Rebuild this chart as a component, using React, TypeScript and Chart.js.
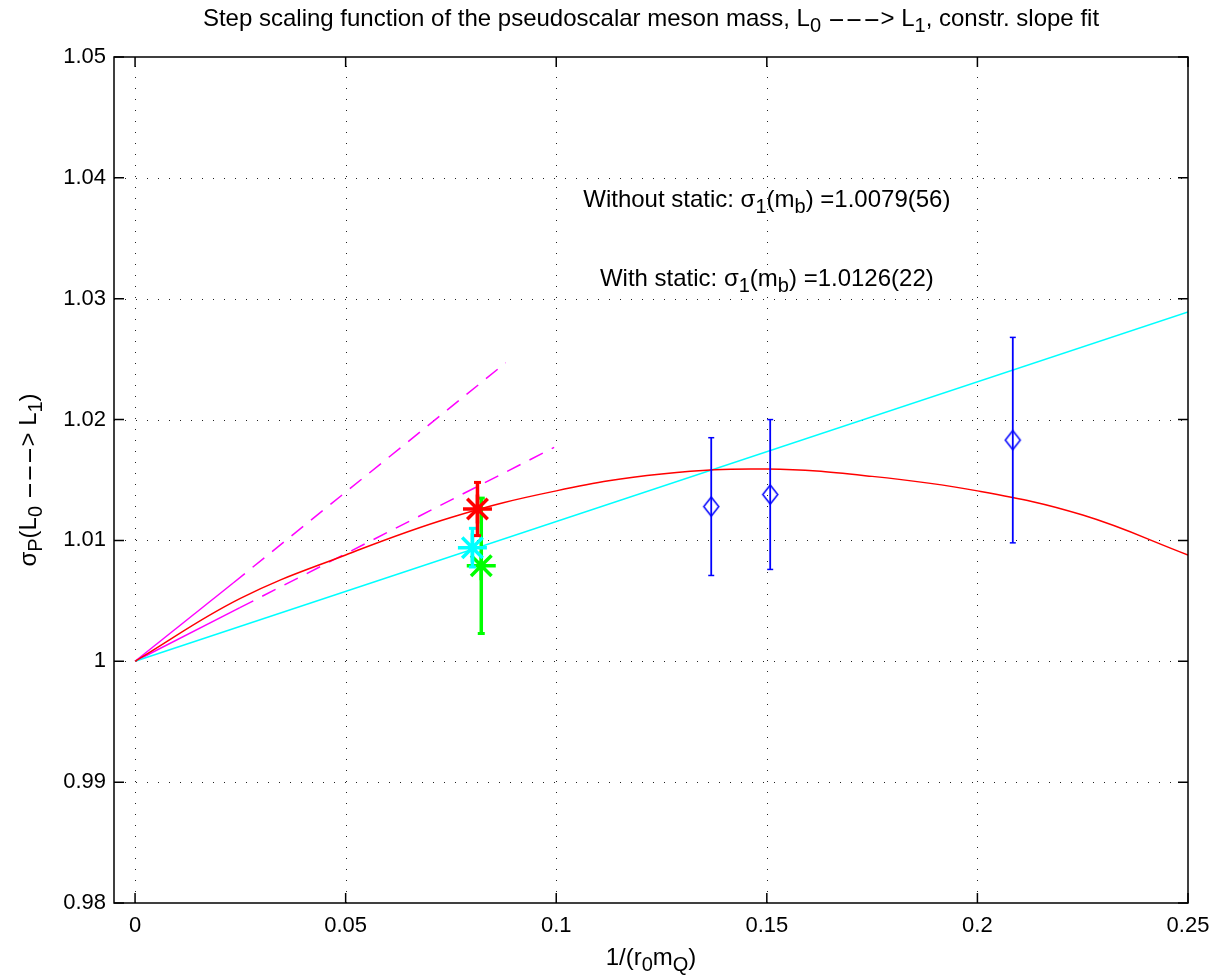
import React, { useEffect, useRef } from "react";
import { Chart, registerables } from "chart.js";

Chart.register(...registerables);

// ---------- axes ----------
const X_MIN = -0.005;
const X_MAX = 0.25;
const Y_MIN = 0.98;
const Y_MAX = 1.05;
const xTickValues = [0, 0.05, 0.1, 0.15, 0.2, 0.25];
const xTickLabels = ["0", "0.05", "0.1", "0.15", "0.2", "0.25"];
const yTickValues = [0.98, 0.99, 1, 1.01, 1.02, 1.03, 1.04, 1.05];
const yTickLabels = ["0.98", "0.99", "1", "1.01", "1.02", "1.03", "1.04", "1.05"];

// ---------- curves ----------
const curveX = [0, 0.025, 0.05, 0.075, 0.1, 0.125, 0.15, 0.175, 0.2, 0.225, 0.25];
const curveY = [1, 1.0052, 1.0088, 1.0119, 1.0141, 1.0155, 1.0159, 1.0153, 1.0141, 1.0121, 1.0088];

const linFitX = [0, 0.25];
const linFitY = [1, 1.0289];

const steepSolidX = [0, 0.0233];
const steepSolidY = [1, 1.00648];
const steepDashX = [0.0233, 0.088];
const steepDashY = [1.00648, 1.0247];

const shallowSolidX = [0, 0.0249];
const shallowSolidY = [1, 1.00444];
const shallowDashX = [0.0249, 0.0995];
const shallowDashY = [1.00444, 1.0177];

// ---------- static-included data points (diamonds) ----------
const staticX = [0.1368, 0.1508, 0.2084];
const staticY = [1.0128, 1.0138, 1.0183];
const staticErr = [0.0057, 0.0062, 0.0085];

// ---------- star points: with static, interpolated, without static ----------
const starX = [0.0813, 0.0801, 0.0822];
const starY = [1.0126, 1.0094, 1.0079];
const starErr = [0.0022, 0.0016, 0.0056];
const starColors = ["#ff0000", "#00ffff", "#00ff00"];

// ---------- annotations ----------
const noteX = [0.15, 0.15];
const noteY = [1.038, 1.0315];
const notePrefix = ["Without static: ", "With static: "];
const noteValue = [" =1.0079(56)", " =1.0126(22)"];

const FONT = '"Liberation Sans", Helvetica, Arial, sans-serif';
const TEXT_SIZE = 24;
const SUB_SIZE = 20;
const SUB_DY = 6;

type Seg = { t: string; sub?: boolean; sx?: number };

function segFont(s: Seg) {
  return `${s.sub ? SUB_SIZE : TEXT_SIZE}px ${FONT}`;
}

function segWidth(ctx: CanvasRenderingContext2D, s: Seg) {
  ctx.font = segFont(s);
  return ctx.measureText(s.t).width * (s.sx || 1);
}

function drawRich(ctx: CanvasRenderingContext2D, segs: Seg[], cx: number, baseline: number) {
  let w = 0;
  for (const s of segs) w += segWidth(ctx, s);
  let x = cx - w / 2;
  ctx.textAlign = "left";
  ctx.textBaseline = "alphabetic";
  ctx.fillStyle = "#000";
  for (const s of segs) {
    const sw = segWidth(ctx, s);
    const y = baseline + (s.sub ? SUB_DY : 0);
    if (s.sx && s.sx !== 1) {
      ctx.save();
      ctx.translate(x, y);
      ctx.scale(s.sx, 1);
      ctx.fillText(s.t, 0, 0);
      ctx.restore();
    } else {
      ctx.fillText(s.t, x, y);
    }
    x += sw;
  }
}

const pts = (xs: number[], ys: number[]) => xs.map((x, i) => ({ x, y: ys[i] }));

function makeDiamond(w: number, h: number, color: string, lw: number) {
  const c = document.createElement("canvas");
  c.width = w + 4;
  c.height = h + 4;
  const g = c.getContext("2d")!;
  g.strokeStyle = color;
  g.lineWidth = lw;
  g.beginPath();
  g.moveTo(c.width / 2, 2);
  g.lineTo(c.width - 2, c.height / 2);
  g.lineTo(c.width / 2, c.height - 2);
  g.lineTo(2, c.height / 2);
  g.closePath();
  g.stroke();
  return c;
}

const DASH_SX = 2.2;

const framePlugin = {
  id: "matlabFrame",
  beforeDatasetsDraw(chart: any) {
    const { ctx, chartArea: a, scales } = chart;
    const xs = scales.x;
    const ys = scales.y;
    ctx.save();
    ctx.strokeStyle = "#222";
    ctx.lineWidth = 1;
    ctx.setLineDash([1, 10]);
    for (const v of xTickValues) {
      const px = Math.round(xs.getPixelForValue(v)) + 0.5;
      if (px <= a.left + 1 || px >= a.right - 1) continue;
      ctx.beginPath();
      ctx.moveTo(px, a.bottom);
      ctx.lineTo(px, a.top);
      ctx.stroke();
    }
    for (const v of yTickValues) {
      const py = Math.round(ys.getPixelForValue(v)) + 0.5;
      if (py <= a.top + 1 || py >= a.bottom - 1) continue;
      ctx.beginPath();
      ctx.moveTo(a.left, py);
      ctx.lineTo(a.right, py);
      ctx.stroke();
    }
    ctx.restore();
  },
  afterDatasetsDraw(chart: any) {
    const { ctx, chartArea: a, scales } = chart;
    const xs = scales.x;
    const ys = scales.y;
    const TL = 10;
    ctx.save();
    ctx.strokeStyle = "#000";
    ctx.lineWidth = 1.5;
    ctx.setLineDash([]);
    ctx.strokeRect(a.left, a.top, a.right - a.left, a.bottom - a.top);
    ctx.beginPath();
    for (const v of xTickValues) {
      const px = xs.getPixelForValue(v);
      ctx.moveTo(px, a.bottom);
      ctx.lineTo(px, a.bottom - TL);
      ctx.moveTo(px, a.top);
      ctx.lineTo(px, a.top + TL);
    }
    for (const v of yTickValues) {
      const py = ys.getPixelForValue(v);
      ctx.moveTo(a.left, py);
      ctx.lineTo(a.left + TL, py);
      ctx.moveTo(a.right, py);
      ctx.lineTo(a.right - TL, py);
    }
    ctx.stroke();
    ctx.restore();
  },
  afterDraw(chart: any) {
    const { ctx, chartArea: a, scales } = chart;
    const cx = (a.left + a.right) / 2;
    const cy = (a.top + a.bottom) / 2;
    ctx.save();
    // title
    drawRich(
      ctx,
      [
        { t: "Step scaling function of the pseudoscalar meson mass, L" },
        { t: "0", sub: true },
        { t: " " },
        { t: "---", sx: DASH_SX },
        { t: "> L" },
        { t: "1", sub: true },
        { t: ", constr. slope fit" },
      ],
      cx,
      26
    );
    // x label
    drawRich(
      ctx,
      [{ t: "1/(r" }, { t: "0", sub: true }, { t: "m" }, { t: "Q", sub: true }, { t: ")" }],
      cx,
      965
    );
    // y label
    ctx.save();
    ctx.translate(36, cy);
    ctx.rotate(-Math.PI / 2);
    drawRich(
      ctx,
      [
        { t: "σ" },
        { t: "P", sub: true },
        { t: "(L" },
        { t: "0", sub: true },
        { t: " " },
        { t: "---", sx: DASH_SX },
        { t: "> L" },
        { t: "1", sub: true },
        { t: ")" },
      ],
      0,
      0
    );
    ctx.restore();
    // annotations
    for (let i = 0; i < noteX.length; i++) {
      const px = scales.x.getPixelForValue(noteX[i]);
      const py = scales.y.getPixelForValue(noteY[i]) + 5;
      drawRich(
        ctx,
        [
          { t: notePrefix[i] + "σ" },
          { t: "1", sub: true },
          { t: "(m" },
          { t: "b", sub: true },
          { t: ")" + noteValue[i] },
        ],
        px,
        py
      );
    }
    ctx.restore();
  },
};

export default function App() {
  const ref = useRef<HTMLCanvasElement>(null);

  useEffect(() => {
    const canvas = ref.current;
    if (!canvas) return;
    const diamond = makeDiamond(15, 19, "#0000ff", 1.5);

    const datasets: any[] = [];

    // star points (top-most first)
    for (const i of [0, 1, 2]) {
      datasets.push({
        label: "star" + i,
        data: [{ x: starX[i], y: starY[i] }],
        showLine: false,
        pointStyle: "star",
        pointRadius: 14.5,
        pointBorderWidth: 3.5,
        borderColor: starColors[i],
        backgroundColor: starColors[i],
      });
      datasets.push({
        label: "starErr" + i,
        data: [
          { x: starX[i], y: starY[i] - starErr[i] },
          { x: starX[i], y: starY[i] + starErr[i] },
        ],
        showLine: true,
        borderColor: starColors[i],
        borderWidth: 3.5,
        pointStyle: "line",
        pointRadius: 3.5,
        pointBorderWidth: 3,
        pointBorderColor: starColors[i],
      });
    }

    // diamonds with error bars
    datasets.push({
      label: "static",
      data: pts(staticX, staticY),
      showLine: false,
      pointStyle: diamond,
      pointRadius: 8,
      borderColor: "#0000ff",
    });
    staticX.forEach((x, i) => {
      datasets.push({
        label: "staticErr" + i,
        data: [
          { x, y: staticY[i] - staticErr[i] },
          { x, y: staticY[i] + staticErr[i] },
        ],
        showLine: true,
        borderColor: "#0000ff",
        borderWidth: 1.8,
        pointStyle: "line",
        pointRadius: 3,
        pointBorderWidth: 1.5,
        pointBorderColor: "#0000ff",
      });
    });

    // lines
    const lineCommon = { showLine: true, pointRadius: 0, pointHoverRadius: 0, borderWidth: 1.5 };
    datasets.push({ ...lineCommon, label: "fit", data: pts(curveX, curveY), borderColor: "#ff0000", tension: 0.4 });
    datasets.push({ ...lineCommon, label: "linear", data: pts(linFitX, linFitY), borderColor: "#00ffff" });
    datasets.push({ ...lineCommon, label: "steepSolid", data: pts(steepSolidX, steepSolidY), borderColor: "#ff00ff" });
    datasets.push({ ...lineCommon, label: "steepDash", data: pts(steepDashX, steepDashY), borderColor: "#ff00ff", borderDash: [15, 10] });
    datasets.push({ ...lineCommon, label: "shallowSolid", data: pts(shallowSolidX, shallowSolidY), borderColor: "#ff00ff" });
    datasets.push({ ...lineCommon, label: "shallowDash", data: pts(shallowDashX, shallowDashY), borderColor: "#ff00ff", borderDash: [15, 10] });

    const tickFont = { family: FONT, size: 22 };

    const chart = new Chart(canvas, {
      type: "scatter",
      data: { datasets },
      plugins: [framePlugin],
      options: {
        animation: false,
        responsive: false,
        maintainAspectRatio: false,
        layout: { padding: { top: 57, right: 29, left: 0, bottom: 0 } },
        plugins: { legend: { display: false }, tooltip: { enabled: false }, title: { display: false } },
        scales: {
          x: {
            type: "linear",
            min: X_MIN,
            max: X_MAX,
            afterBuildTicks: (s: any) => {
              s.ticks = xTickValues.map((v) => ({ value: v }));
            },
            afterFit: (s: any) => {
              s.height = 72;
              s.paddingLeft = 0;
              s.paddingRight = 0;
            },
            ticks: {
              callback: (_v: any, i: number) => xTickLabels[i],
              font: tickFont,
              color: "#000",
              padding: 10,
              maxRotation: 0,
              autoSkip: false,
            },
            grid: { display: false, drawTicks: false, tickLength: 0 },
            border: { display: false },
          },
          y: {
            type: "linear",
            min: Y_MIN,
            max: Y_MAX,
            afterBuildTicks: (s: any) => {
              s.ticks = yTickValues.map((v) => ({ value: v }));
            },
            afterFit: (s: any) => {
              s.width = 114;
              s.paddingTop = 0;
              s.paddingBottom = 0;
            },
            ticks: {
              callback: (_v: any, i: number) => yTickLabels[i],
              font: tickFont,
              color: "#000",
              padding: 8,
              autoSkip: false,
            },
            grid: { display: false, drawTicks: false, tickLength: 0 },
            border: { display: false },
          },
        },
      },
    } as any);

    return () => chart.destroy();
  }, []);

  return (
    <div style={{ position: "absolute", left: 0, top: 0, width: 1217, height: 975, background: "#fff" }}>
      <canvas ref={ref} width={1217} height={975} style={{ display: "block" }} />
    </div>
  );
}
